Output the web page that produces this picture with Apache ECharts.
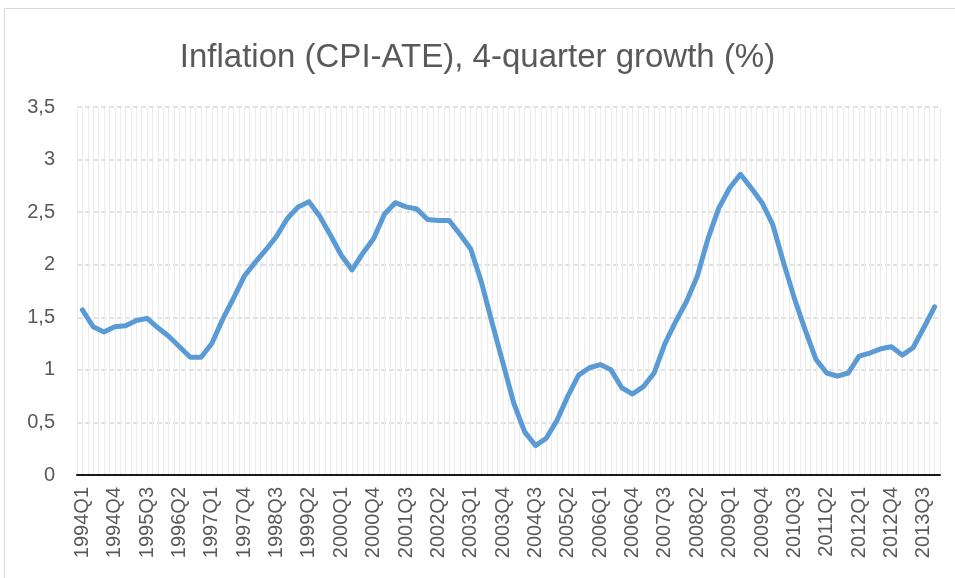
<!DOCTYPE html>
<html>
<head>
    <meta charset="UTF-8">
    <title>Inflation (CPI-ATE)</title>
    <style type="text/css">
        body{
            margin:0;
            padding:0;
            background-color:white;
        }
        #main{
            width:955px;
            height:578px;
        }
    </style>
</head>
<body>
<div id="main"></div>
<script src="https://cdn.jsdelivr.net/npm/echarts@6/dist/echarts.min.js"></script>
<script type="text/javascript">
    // quarters 1994Q1 - 2013Q4
    var years = [];
    for (var y = 1994; y <= 2013; y++) years.push(y);
    var quarters = [];
    years.forEach(function(y) {
        for (var q = 1; q <= 4; q++) quarters.push(y + 'Q' + q);
    });

    // 4-quarter growth, %
    var inflation = [
        1.57, 1.41, 1.36, 1.41, 1.42, 1.47, 1.49, 1.40, 1.32, 1.22,
        1.12, 1.12, 1.25, 1.48, 1.68, 1.89, 2.02, 2.14, 2.27, 2.44,
        2.55, 2.60, 2.46, 2.28, 2.09, 1.95, 2.11, 2.25, 2.48, 2.59,
        2.55, 2.53, 2.43, 2.42, 2.42, 2.29, 2.15, 1.83, 1.44, 1.06,
        0.68, 0.41, 0.28, 0.35, 0.52, 0.75, 0.95, 1.02, 1.05, 1.00,
        0.83, 0.77, 0.84, 0.97, 1.25, 1.46, 1.65, 1.89, 2.25, 2.54,
        2.73, 2.86, 2.73, 2.59, 2.38, 2.02, 1.68, 1.38, 1.10, 0.97,
        0.94, 0.97, 1.13, 1.16, 1.20, 1.22, 1.14, 1.21, 1.40, 1.60
    ];

    var yTicks = [0, 0.5, 1, 1.5, 2, 2.5, 3, 3.5];

    var grey = '#595959';
    var myChart = echarts.init(document.getElementById('main'));
    var option = {
        animation: false,
        title: {
            text: 'Inflation (CPI-ATE), 4-quarter growth (%)',
            left: 'center',
            top: 36,
            textStyle: {
                fontFamily: 'Liberation Sans',
                fontSize: 33,
                fontWeight: 'normal',
                color: grey
            }
        },
        graphic: [{
            type: 'rect',
            shape: {x: 4.5, y: 8.5, width: 980, height: 600},
            style: {fill: null, stroke: '#d9d9d9', lineWidth: 1},
            silent: true
        }],
        grid: {left: 77, right: 15, top: 107, bottom: 103},
        xAxis: [{
            type: 'category',
            data: quarters,
            boundaryGap: true,
            axisLine: {lineStyle: {color: '#1a1a1a', width: 2}},
            axisTick: {show: false},
            axisLabel: {
                interval: 2,
                rotate: 90,
                margin: 12,
                fontFamily: 'Liberation Sans',
                fontSize: 20,
                color: grey
            },
            splitLine: {show: false},
            z: 5
        }, {
            // helper axis for the thin vertical grid
            type: 'value',
            min: 0,
            max: quarters.length * 2,
            interval: 1,
            show: true,
            axisLine: {show: false},
            axisTick: {show: false},
            axisLabel: {show: false},
            splitLine: {lineStyle: {color: '#ebebeb', width: 1}}
        }],
        yAxis: {
            type: 'value',
            min: yTicks[0],
            max: yTicks[yTicks.length - 1],
            interval: 0.5,
            axisLine: {show: false},
            axisTick: {show: false},
            axisLabel: {
                margin: 22,
                fontFamily: 'Liberation Sans',
                fontSize: 20,
                color: grey,
                formatter: function(v) { return String(v).replace('.', ','); }
            },
            splitLine: {lineStyle: {color: '#d9d9d9', width: 1.5, type: [5, 3]}}
        },
        series: [{
            type: 'line',
            data: inflation,
            xAxisIndex: 0,
            symbol: 'none',
            lineStyle: {color: '#5b9bd5', width: 5, cap: 'round', join: 'round'},
            z: 10
        }]
    };
    myChart.setOption(option);
</script>
</body>
</html>
